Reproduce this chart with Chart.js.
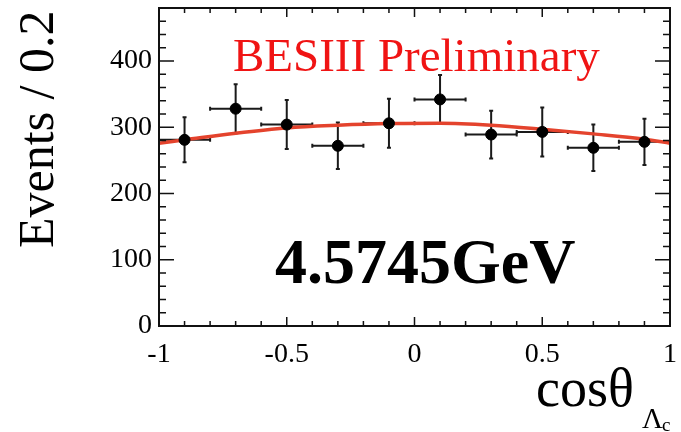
<!DOCTYPE html>
<html>
<head>
<meta charset="utf-8">
<script src="https://cdn.jsdelivr.net/npm/chart.js@4.4.0/dist/chart.umd.min.js"></script>
<style>
  html, body { margin: 0; padding: 0; background: #fff; }
</style>
</head>
<body>
<canvas id="graphCanvas" width="681" height="432"></canvas>
<script>
// puntos de datos (centro del bin, eventos, error)
const binCenters = [-0.9, -0.7, -0.5, -0.3, -0.1, 0.1, 0.3, 0.5, 0.7, 0.9];
const events = [281, 328, 304, 272, 306, 342, 289, 293, 269, 278];
const eventErrors = [34, 37, 37, 35, 37, 37, 36, 37, 35, 35];
const binHalfWidth = 0.1;

// curva del ajuste
const fitX = [-1, -0.9, -0.7, -0.5, -0.3, -0.1, 0.1, 0.3, 0.5, 0.7, 0.9, 1];
const fitY = [276, 281, 291, 299, 303, 305.5, 306, 303, 297, 290, 282, 276];

// ejes
const xTickValues = [-1, -0.5, 0, 0.5, 1];
const xTickLabels = ['-1', '-0.5', '0', '0.5', '1'];
const yTickValues = [0, 100, 200, 300, 400];
const yTickLabels = ['0', '100', '200', '300', '400'];

const serif = 'Liberation Serif';

// marco estilo ROOT, ticks hacia dentro, barras de error y textos
const rootStyle = {
    id: 'rootStyle',
    beforeDatasetsDraw(chart) {
        const ctx = chart.ctx;
        const xs = chart.scales.x, ys = chart.scales.y;
        ctx.save();
        ctx.strokeStyle = '#1a1a1a';
        ctx.lineWidth = 2;
        const cap = 2;
        binCenters.forEach((x, i) => {
            const px = xs.getPixelForValue(x);
            const py = ys.getPixelForValue(events[i]);
            const xl = xs.getPixelForValue(x - binHalfWidth);
            const xr = xs.getPixelForValue(x + binHalfWidth);
            const yt = ys.getPixelForValue(events[i] + eventErrors[i]);
            const yb = ys.getPixelForValue(events[i] - eventErrors[i]);
            ctx.beginPath();
            ctx.moveTo(xl, py); ctx.lineTo(xr, py);
            ctx.moveTo(px, yt); ctx.lineTo(px, yb);
            ctx.moveTo(xl, py - cap); ctx.lineTo(xl, py + cap);
            ctx.moveTo(xr, py - cap); ctx.lineTo(xr, py + cap);
            ctx.moveTo(px - cap, yt); ctx.lineTo(px + cap, yt);
            ctx.moveTo(px - cap, yb); ctx.lineTo(px + cap, yb);
            ctx.stroke();
        });
        ctx.restore();
    },
    afterDraw(chart) {
        const ctx = chart.ctx;
        const a = chart.chartArea;
        const xs = chart.scales.x, ys = chart.scales.y;
        ctx.save();
        ctx.strokeStyle = '#111';
        ctx.lineWidth = 2;
        ctx.strokeRect(a.left, a.top, a.right - a.left, a.bottom - a.top);

        ctx.lineWidth = 1.5;
        ctx.beginPath();
        // ticks eje x cada 0.1
        for (let i = -10; i <= 10; i++) {
            const px = xs.getPixelForValue(i / 10);
            const len = (i % 5 === 0) ? 9 : 5;
            ctx.moveTo(px, a.bottom); ctx.lineTo(px, a.bottom - len);
            ctx.moveTo(px, a.top); ctx.lineTo(px, a.top + len);
        }
        // ticks eje y cada 20
        for (let v = 0; v <= 480; v += 20) {
            const py = ys.getPixelForValue(v);
            const len = (v % 100 === 0) ? 15 : 7;
            ctx.moveTo(a.left, py); ctx.lineTo(a.left + len, py);
            ctx.moveTo(a.right, py); ctx.lineTo(a.right - len, py);
        }
        ctx.stroke();

        // textos
        ctx.textBaseline = 'alphabetic';
        ctx.textAlign = 'left';
        ctx.fillStyle = '#f01414';
        ctx.font = '47px "' + serif + '"';
        ctx.fillText('BESIII Preliminary', 233, 71);

        ctx.fillStyle = '#000';
        ctx.font = 'bold 64px "' + serif + '"';
        ctx.fillText('4.5745GeV', 275, 283);

        // titulo eje y
        ctx.save();
        ctx.translate(53, 248);
        ctx.rotate(-Math.PI / 2);
        ctx.font = '50px "' + serif + '"';
        ctx.fillText('Events / 0.2', 0, 0);
        ctx.restore();

        // titulo eje x
        ctx.font = '54px "' + serif + '"';
        ctx.fillText('cos\u03b8', 536, 406);
        ctx.font = '29px "' + serif + '"';
        ctx.fillText('\u039b', 642, 428);
        ctx.font = '19px "' + serif + '"';
        ctx.fillText('c', 662, 431);
        ctx.restore();
    }
};

const ctx = document.getElementById('graphCanvas').getContext('2d');
const chart = new Chart(ctx, {
    type: 'scatter',
    data: {
        datasets: [{
            label: 'datos',
            data: binCenters.map((x, i) => ({ x, y: events[i] })),
            backgroundColor: '#000',
            borderColor: '#000',
            pointRadius: 5.5,
            pointHoverRadius: 5.5,
            showLine: false
        }, {
            label: 'ajuste',
            type: 'line',
            data: fitX.map((x, i) => ({ x, y: fitY[i] })),
            borderColor: '#e4432d',
            borderWidth: 3.5,
            pointRadius: 0,
            fill: false,
            tension: 0.4,
            cubicInterpolationMode: 'monotone'
        }]
    },
    options: {
        responsive: false,
        animation: false,
        layout: { padding: { left: 0, top: 8, right: 11, bottom: 0 } },
        plugins: { legend: { display: false }, tooltip: { enabled: false } },
        scales: {
            x: {
                type: 'linear',
                min: -1,
                max: 1,
                grid: { display: false, drawTicks: false },
                border: { display: false },
                afterBuildTicks: s => { s.ticks = xTickValues.map(v => ({ value: v })); },
                afterFit: s => { s.height = 106; s.paddingLeft = 0; s.paddingRight = 0; },
                ticks: {
                    callback: (v, i) => xTickLabels[i],
                    font: { family: serif, size: 28 },
                    color: '#000',
                    padding: 12,
                    maxRotation: 0,
                    autoSkip: false
                }
            },
            y: {
                type: 'linear',
                min: 0,
                max: 480,
                grid: { display: false, drawTicks: false },
                border: { display: false },
                afterBuildTicks: s => { s.ticks = yTickValues.map(v => ({ value: v })); },
                afterFit: s => { s.width = 159; s.paddingTop = 0; s.paddingBottom = 0; },
                ticks: {
                    callback: (v, i) => yTickLabels[i],
                    font: { family: serif, size: 28 },
                    color: '#000',
                    padding: 7
                }
            }
        }
    },
    plugins: [rootStyle]
});
</script>
</body>
</html>
